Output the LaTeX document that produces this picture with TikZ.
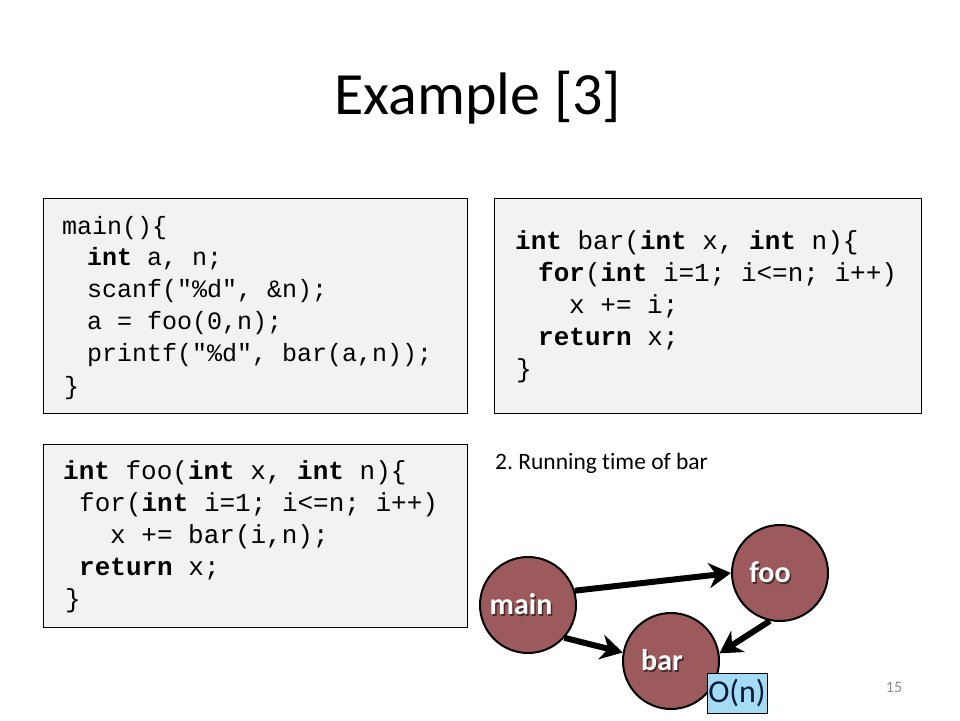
\documentclass[tikz,border=0pt]{standalone}
\usepackage{fontspec}
\setmainfont{Carlito}
\newfontfamily\codefont{Liberation Mono}
\newfontfamily\subfont[Ligatures=NoCommon]{Carlito}
\usetikzlibrary{arrows.meta}
\definecolor{boxgray}{HTML}{F2F2F2}
\definecolor{nodered}{HTML}{9C5A5C}
\definecolor{onblue}{HTML}{A5DCF5}
\definecolor{ontext}{HTML}{0E1A3A}
\definecolor{pagegray}{HTML}{8C8C8C}
\definecolor{shadowc}{HTML}{4A2A2A}
\newcommand{\shadowtext}[1]{\rlap{\kern1.5pt\raisebox{-1.5pt}{\textcolor{shadowc}{#1}}}#1}
\frenchspacing
\tikzset{
  codebox/.style={draw=black, line width=0.9pt, fill=boxgray, inner sep=0pt},
  codeA/.style={anchor=mid west, inner sep=0pt, font=\codefont\fontsize{25}{30}\selectfont},
  codeB/.style={anchor=mid west, inner sep=0pt, font=\codefont\fontsize{26}{31}\selectfont},
  callnode/.style={circle, draw=black, line width=2pt, fill=nodered, minimum size=96pt, inner sep=0pt,
    text=white, font=\fontsize{30}{34}\selectfont\bfseries},
  callarrow/.style={line width=6pt, -{Stealth[length=22pt, width=25pt, inset=7pt]}},
}
\begin{document}
\begin{tikzpicture}[x=1pt, y=-1pt]
\useasboundingbox[fill=white] (0,0) rectangle (960,720);
% title
\node[font=\fontsize{60}{66}\selectfont, anchor=base] (title) at (478,114) {Example [3]};
% boxes
\node[codebox, minimum width=424pt, minimum height=215pt] (box1) at (255,305.5) {};
\node[codebox, minimum width=427pt, minimum height=215pt] (box2) at (707.5,305.5) {};
\node[codebox, minimum width=424pt, minimum height=183pt] (box3) at (255,535.5) {};
% box 1
\node[codeA] (a1) at (62,232) {main()\{};
\node[codeA] (a2) at (87,263) {\textbf{int} a, n;};
\node[codeA] (a3) at (87,295) {scanf("\%d", \&n);};
\node[codeA] (a4) at (87,327) {a = foo(0,n);};
\node[codeA] (a5) at (87,359) {printf("\%d", bar(a,n));};
\node[codeA] (a6) at (64,392) {\}};
% box 2
\node[codeB] (b1) at (515,247) {\textbf{int} bar(\textbf{int} x, \textbf{int} n)\{};
\node[codeB] (b2) at (538,279) {\textbf{for}(\textbf{int} i=1; i<=n; i++)};
\node[codeB] (b3) at (569,311) {x += i;};
\node[codeB] (b4) at (538,343) {\textbf{return} x;};
\node[codeB] (b5) at (516,375) {\}};
% box 3
\node[codeB] (c1) at (63,477) {\textbf{int} foo(\textbf{int} x, \textbf{int} n)\{};
\node[codeB] (c2) at (79,509) {for(\textbf{int} i=1; i<=n; i++)};
\node[codeB] (c3) at (110,541) {x += bar(i,n);};
\node[codeB] (c4) at (79,573) {\textbf{return} x;};
\node[codeB] (c5) at (65,605) {\}};
% subtitle
\node[anchor=mid west, inner sep=0pt, font=\subfont\fontsize{23.5}{27}\selectfont] (sub) at (495,467) {2. Running time of bar};
% graph
\node[callnode] (main) at (528,605) {\shadowtext{main}\hspace*{14pt}};
\node[callnode] (foo) at (780,573) {\shadowtext{foo}\hspace*{20pt}};
\node[callnode] (bar) at (671,661) {\shadowtext{bar}\hspace*{18pt}};
\draw[callarrow] (main.17) -- (foo.180);
\draw[callarrow] (main.-42) -- (bar.170);
\draw[callarrow] (foo.-102) -- (bar.9);
\node[draw=black, line width=0.8pt, fill=onblue, minimum width=60pt, minimum height=40pt, inner sep=0pt,
  text=ontext, font=\fontsize{32}{36}\selectfont] (on) at (737,693) {O(n)};
% page number
\node[text=pagegray, font=\fontsize{16}{18}\selectfont] (pnum) at (894,687) {15};
\end{tikzpicture}
\end{document}
